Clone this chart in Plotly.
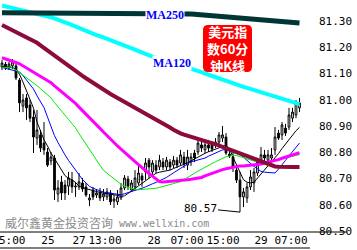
import plotly.graph_objects as go
import numpy as np

# ---------------- data ----------------
opens = [81.125, 81.136, 81.121, 81.129, 81.129, 81.075, 80.976, 81.007, 80.980, 80.934,
         80.854, 80.866, 80.835, 80.801, 80.767, 80.778, 80.641, 80.687, 80.675, 80.671,
         80.694, 80.668, 80.668, 80.683, 80.668, 80.618, 80.656, 80.637, 80.649, 80.630,
         80.630, 80.645, 80.614, 80.611, 80.626, 80.664, 80.698, 80.656, 80.668, 80.683,
         80.710, 80.725, 80.770, 80.725, 80.751, 80.744, 80.763, 80.744, 80.763, 80.751,
         80.770, 80.759, 80.782, 80.751, 80.763, 80.797, 80.801, 80.828, 80.809, 80.828,
         80.828, 80.828, 80.839, 80.854, 80.858, 80.793, 80.782, 80.732, 80.694, 80.630,
         80.626, 80.668, 80.683, 80.721, 80.770, 80.790, 80.770, 80.778, 80.809, 80.873,
         80.866, 80.892, 80.896, 80.930, 80.942, 80.969]
highs = [81.151, 81.144, 81.144, 81.155, 81.140, 81.083, 81.022, 81.022, 80.999, 80.961,
         80.961, 80.885, 80.915, 80.816, 80.801, 80.790, 80.694, 80.710, 80.694, 80.725,
         80.725, 80.687, 80.721, 80.702, 80.683, 80.641, 80.668, 80.656, 80.664, 80.660,
         80.664, 80.656, 80.637, 80.656, 80.683, 80.713, 80.710, 80.694, 80.732, 80.751,
         80.721, 80.778, 80.778, 80.770, 80.770, 80.790, 80.778, 80.782, 80.774, 80.786,
         80.782, 80.809, 80.801, 80.809, 80.797, 80.809, 80.847, 80.839, 80.839, 80.847,
         80.843, 80.854, 80.877, 80.900, 80.873, 80.809, 80.801, 80.751, 80.725, 80.664,
         80.683, 80.732, 80.740, 80.778, 80.820, 80.809, 80.809, 80.816, 80.896, 80.885,
         80.915, 80.908, 80.969, 80.969, 80.999, 81.007]
lows = [81.113, 81.113, 81.113, 81.117, 81.075, 80.953, 80.953, 80.923, 80.915, 80.797,
        80.828, 80.801, 80.790, 80.744, 80.751, 80.618, 80.611, 80.618, 80.618, 80.637,
        80.645, 80.630, 80.656, 80.649, 80.630, 80.595, 80.618, 80.626, 80.614, 80.614,
        80.618, 80.599, 80.588, 80.599, 80.618, 80.656, 80.656, 80.649, 80.656, 80.675,
        80.668, 80.694, 80.702, 80.713, 80.721, 80.732, 80.732, 80.732, 80.732, 80.740,
        80.740, 80.751, 80.740, 80.732, 80.748, 80.763, 80.790, 80.801, 80.797, 80.801,
        80.801, 80.816, 80.828, 80.839, 80.790, 80.778, 80.725, 80.683, 80.572, 80.591,
        80.607, 80.656, 80.649, 80.710, 80.751, 80.763, 80.759, 80.767, 80.790, 80.847,
        80.847, 80.862, 80.885, 80.915, 80.930, 80.953]
closes = [81.140, 81.121, 81.136, 81.144, 81.083, 80.988, 80.999, 80.969, 80.930, 80.858,
          80.885, 80.816, 80.809, 80.751, 80.782, 80.656, 80.664, 80.645, 80.645, 80.702,
          80.668, 80.671, 80.687, 80.660, 80.637, 80.626, 80.630, 80.645, 80.626, 80.641,
          80.649, 80.611, 80.622, 80.630, 80.664, 80.702, 80.671, 80.683, 80.702, 80.721,
          80.694, 80.759, 80.744, 80.759, 80.732, 80.770, 80.744, 80.770, 80.744, 80.770,
          80.751, 80.790, 80.755, 80.782, 80.782, 80.778, 80.835, 80.816, 80.828, 80.816,
          80.812, 80.839, 80.866, 80.866, 80.797, 80.786, 80.744, 80.694, 80.630, 80.649,
          80.668, 80.706, 80.725, 80.763, 80.790, 80.778, 80.790, 80.790, 80.858, 80.854,
          80.904, 80.873, 80.942, 80.953, 80.988, 80.988]

ma5 = [81.127, 81.126, 81.125, 81.123, 81.116, 81.097, 81.067, 81.035, 81.000, 80.968,
       80.915, 80.880, 80.847, 80.824, 80.796, 80.776, 80.755, 80.729, 80.711, 80.701,
       80.695, 80.685, 80.671, 80.665, 80.661, 80.657, 80.654, 80.650, 80.647, 80.644,
       80.642, 80.641, 80.639, 80.636, 80.632, 80.634, 80.643, 80.653, 80.662, 80.671,
       80.681, 80.690, 80.700, 80.710, 80.720, 80.724, 80.727, 80.729, 80.732, 80.738,
       80.743, 80.749, 80.755, 80.760, 80.767, 80.775, 80.782, 80.789, 80.796, 80.802,
       80.807, 80.813, 80.817, 80.822, 80.825, 80.814, 80.781, 80.751, 80.719, 80.695,
       80.686, 80.683, 80.686, 80.701, 80.716, 80.734, 80.747, 80.761, 80.776, 80.795,
       80.814, 80.831, 80.849, 80.866, 80.882, 80.895]
ma10 = [81.123, 81.119, 81.116, 81.113, 81.110, 81.106, 81.092, 81.075, 81.059, 81.041,
        81.015, 80.992, 80.970, 80.934, 80.898, 80.863, 80.837, 80.811, 80.790, 80.769,
        80.750, 80.730, 80.711, 80.696, 80.683, 80.670, 80.663, 80.658, 80.653, 80.648,
        80.646, 80.644, 80.641, 80.639, 80.638, 80.642, 80.646, 80.650, 80.654, 80.657,
        80.663, 80.668, 80.675, 80.680, 80.685, 80.691, 80.697, 80.704, 80.713, 80.722,
        80.731, 80.740, 80.749, 80.758, 80.764, 80.767, 80.771, 80.775, 80.778, 80.785,
        80.791, 80.799, 80.803, 80.809, 80.809, 80.809, 80.809, 80.804, 80.792, 80.780,
        80.768, 80.756, 80.746, 80.737, 80.727, 80.724, 80.723, 80.722, 80.721, 80.736,
        80.751, 80.769, 80.786, 80.803, 80.819, 80.835]
ma30 = [81.124, 81.123, 81.122, 81.121, 81.113, 81.103, 81.094, 81.085, 81.076, 81.066,
        81.054, 81.042, 81.031, 81.019, 81.007, 80.989, 80.973, 80.956, 80.940, 80.924,
        80.909, 80.893, 80.871, 80.850, 80.830, 80.809, 80.790, 80.769, 80.750, 80.731,
        80.720, 80.710, 80.699, 80.688, 80.678, 80.670, 80.666, 80.662, 80.659, 80.657,
        80.658, 80.659, 80.661, 80.662, 80.663, 80.666, 80.670, 80.673, 80.677, 80.680,
        80.684, 80.688, 80.696, 80.705, 80.713, 80.720, 80.728, 80.736, 80.744, 80.750,
        80.757, 80.764, 80.770, 80.777, 80.783, 80.785, 80.788, 80.788, 80.783, 80.778,
        80.774, 80.769, 80.766, 80.766, 80.764, 80.764, 80.763, 80.766, 80.769, 80.772,
        80.775, 80.778, 80.782, 80.785, 80.788, 80.791]
ma60 = [81.160, 81.156, 81.151, 81.146, 81.142, 81.137, 81.129, 81.121, 81.113, 81.105,
        81.097, 81.089, 81.081, 81.073, 81.065, 81.053, 81.042, 81.031, 81.020, 81.009,
        80.997, 80.986, 80.972, 80.959, 80.946, 80.932, 80.919, 80.905, 80.891, 80.877,
        80.863, 80.849, 80.836, 80.824, 80.812, 80.799, 80.788, 80.775, 80.764, 80.753,
        80.741, 80.730, 80.719, 80.709, 80.699, 80.688, 80.687, 80.688, 80.689, 80.689,
        80.690, 80.691, 80.693, 80.695, 80.697, 80.699, 80.701, 80.704, 80.710, 80.715,
        80.720, 80.726, 80.731, 80.734, 80.737, 80.740, 80.742, 80.745, 80.748, 80.748,
        80.749, 80.750, 80.751, 80.752, 80.755, 80.759, 80.762, 80.765, 80.769, 80.772,
        80.777, 80.781, 80.785, 80.789, 80.793, 80.798]
ma90 = [81.285, 81.278, 81.272, 81.265, 81.259, 81.252, 81.246, 81.240, 81.233, 81.226,
        81.217, 81.207, 81.197, 81.187, 81.177, 81.167, 81.158, 81.148, 81.138, 81.129,
        81.119, 81.110, 81.100, 81.091, 81.082, 81.073, 81.063, 81.054, 81.045, 81.037,
        81.030, 81.022, 81.014, 81.006, 80.999, 80.991, 80.983, 80.976, 80.968, 80.961,
        80.954, 80.947, 80.940, 80.933, 80.926, 80.919, 80.911, 80.903, 80.894, 80.886,
        80.877, 80.872, 80.867, 80.863, 80.859, 80.855, 80.852, 80.848, 80.844, 80.841,
        80.836, 80.831, 80.826, 80.820, 80.815, 80.810, 80.804, 80.799, 80.794, 80.790,
        80.785, 80.780, 80.775, 80.771, 80.767, 80.760, 80.755, 80.750, 80.746, 80.745,
        80.744, 80.744, 80.744, 80.744, 80.744, 80.744]
ma120 = [81.359, 81.356, 81.353, 81.350, 81.347, 81.344, 81.340, 81.337, 81.334, 81.331,
         81.327, 81.324, 81.321, 81.318, 81.314, 81.310, 81.306, 81.301, 81.295, 81.290,
         81.284, 81.278, 81.273, 81.266, 81.261, 81.255, 81.250, 81.246, 81.242, 81.237,
         81.233, 81.228, 81.224, 81.219, 81.215, 81.209, 81.202, 81.197, 81.191, 81.185,
         81.179, 81.173, 81.168, 81.164, 81.160, 81.156, 81.151, 81.147, 81.143, 81.139,
         81.135, 81.130, 81.126, 81.122, 81.118, 81.114, 81.110, 81.105, 81.100, 81.095,
         81.091, 81.086, 81.082, 81.077, 81.073, 81.068, 81.063, 81.058, 81.054, 81.049,
         81.045, 81.041, 81.037, 81.033, 81.028, 81.025, 81.020, 81.016, 81.012, 81.008,
         81.004, 80.999, 80.995, 80.991, 80.987, 80.983]
ma250 = [81.331, 81.331, 81.331, 81.331, 81.331, 81.331, 81.331, 81.331, 81.331, 81.331,
         81.331, 81.331, 81.331, 81.331, 81.331, 81.331, 81.331, 81.331, 81.330, 81.330,
         81.330, 81.330, 81.330, 81.330, 81.330, 81.330, 81.330, 81.330, 81.330, 81.330,
         81.330, 81.330, 81.330, 81.330, 81.330, 81.330, 81.329, 81.329, 81.329, 81.329,
         81.329, 81.329, 81.329, 81.329, 81.329, 81.329, 81.329, 81.329, 81.329, 81.329,
         81.329, 81.329, 81.329, 81.328, 81.327, 81.326, 81.325, 81.323, 81.322, 81.321,
         81.320, 81.319, 81.318, 81.317, 81.316, 81.314, 81.313, 81.312, 81.311, 81.310,
         81.309, 81.308, 81.307, 81.305, 81.304, 81.303, 81.302, 81.301, 81.300, 81.299,
         81.298, 81.296, 81.295, 81.294, 81.293, 81.292]

y_ticks = [80.50, 80.60, 80.70, 80.80, 80.90, 81.00, 81.10, 81.20, 81.30]
x_tick_pos = [2.9, 13.14, 22.0, 29.43, 43.43, 52.86, 63.14, 74.0, 82.57]
x_tick_text = ["5:00", "25", "27", "13:00", "28", "07:00", "15:00", "29", "07:00"]

# ---------------- figure ----------------
W, H = 357, 250
ML, MR, MT, MB = 0, 47, 0, 18
PW, PH = W - ML - MR, H - MT - MB

idx = list(range(len(closes)))
fig = go.Figure()
fig.add_trace(go.Candlestick(
    x=idx, open=opens, high=highs, low=lows, close=closes,
    increasing=dict(line=dict(color="black", width=1), fillcolor="white"),
    decreasing=dict(line=dict(color="black", width=1), fillcolor="black"),
    whiskerwidth=0, hoverinfo="skip", showlegend=False))

lines = [
    (ma5, "#000000", 1),
    (ma10, "#0000FF", 1),
    (ma30, "#00EE00", 1),
    (ma60, "#FF00FF", 3),
    (ma90, "#8C0A3C", 4),
    (ma120, "#00FFFF", 4),
    (ma250, "#003535", 5),
]
for vals, col, w in lines:
    fig.add_trace(go.Scatter(x=idx, y=vals, mode="lines",
                             line=dict(color=col, width=w),
                             hoverinfo="skip", showlegend=False))

def px2paper(px, py):
    return px / PW, (PH - py) / PH

# low annotation
lo_i = int(np.argmin(lows))
fig.add_annotation(x=lo_i, y=lows[lo_i], xref="x", yref="y",
                   text="80.57", showarrow=True, arrowhead=0, arrowwidth=1,
                   arrowcolor="black", ax=-40, ay=-4, standoff=0,
                   font=dict(family="DejaVu Sans Mono", size=11, color="black"))

# MA labels
for txt, cx, cy in [("MA250", 165, 15.5), ("MA120", 172.5, 63.5)]:
    xp, yp = px2paper(cx, cy)
    fig.add_annotation(x=xp, y=yp, xref="paper", yref="paper", text="<b>" + txt + "</b>",
                       xanchor="center", yanchor="middle",
                       showarrow=False, bgcolor="white", borderpad=0,
                       font=dict(family="Liberation Serif", size=12, color="#0000FF"))

# red rounded box
x0, y1 = px2paper(203, 25)
x1, y0 = px2paper(252, 72)
rx, ry = 5 / PW, 5 / PH
path = (f"M {x0+rx},{y1} L {x1-rx},{y1} Q {x1},{y1} {x1},{y1-ry} "
        f"L {x1},{y0+ry} Q {x1},{y0} {x1-rx},{y0} L {x0+rx},{y0} "
        f"Q {x0},{y0} {x0},{y0+ry} L {x0},{y1-ry} Q {x0},{y1} {x0+rx},{y1} Z")
fig.add_shape(type="path", path=path, xref="paper", yref="paper",
              fillcolor="#FF0000", line=dict(width=0), layer="above")
xp, yp = px2paper(227.5, 48.5)
fig.add_annotation(x=xp, y=yp, xref="paper", yref="paper",
                   text="<b>美元指<br>数60分<br>钟K线</b>",
                   xanchor="center", yanchor="middle", showarrow=False, borderpad=0,
                   font=dict(family="Noto Sans CJK SC", size=13, color="white"))

# watermark
xp, yp = px2paper(3, 222)
fig.add_annotation(x=xp, y=yp, xref="paper", yref="paper", xanchor="left", yanchor="middle",
                   text="威尔鑫黄金投资咨询", showarrow=False,
                   font=dict(family="Noto Sans CJK SC", size=12, color="#8a8a8a"))
xp, yp = px2paper(117, 223)
fig.add_annotation(x=xp, y=yp, xref="paper", yref="paper", xanchor="left", yanchor="middle",
                   text="www.wellxin.com", showarrow=False,
                   font=dict(family="DejaVu Sans Mono", size=10, color="#8a8a8a"))

# frame lines
fig.add_shape(type="line", xref="paper", yref="paper", x0=0, x1=347 / PW, y0=0, y1=0,
              line=dict(color="black", width=1))
fig.add_shape(type="line", xref="paper", yref="paper", x0=0, x1=1, y0=-16 / PH, y1=-16 / PH,
              line=dict(color="black", width=1))

fig.update_layout(
    width=W, height=H, margin=dict(l=ML, r=MR, t=MT, b=MB, autoexpand=False),
    paper_bgcolor="white", plot_bgcolor="white",
    showlegend=False, hovermode=False,
    xaxis=dict(range=[-0.571, PW / 3.5 - 0.571], showgrid=False, zeroline=False,
               showline=False, rangeslider=dict(visible=False), automargin=False,
               tickmode="array", tickvals=x_tick_pos, ticktext=x_tick_text,
               ticks="", ticklabeloverflow="allow",
               tickfont=dict(family="DejaVu Sans Mono", size=11, color="black")),
    yaxis=dict(range=[80.4962, 81.38], side="right", showgrid=False, zeroline=False,
               showline=False, automargin=False, tickmode="array", tickvals=y_ticks,
               ticktext=[f"{v:.2f}" for v in y_ticks], ticks="",
               ticklabelstandoff=8, ticklabeloverflow="allow",
               tickfont=dict(family="DejaVu Sans Mono", size=11, color="black")),
)

fig.write_html("out.html", config={"displayModeBar": False, "staticPlot": True})
